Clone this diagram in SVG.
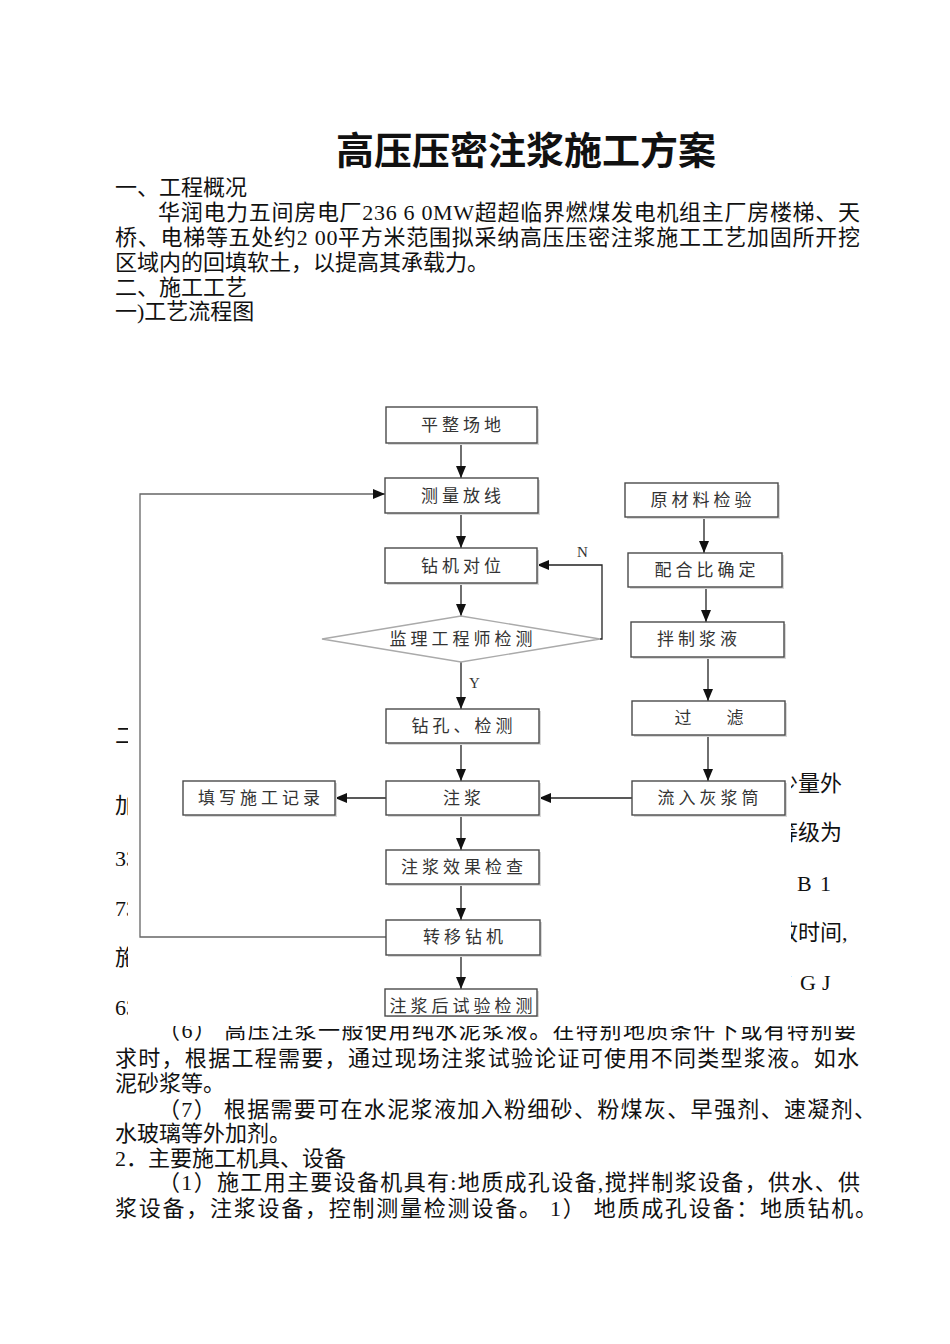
<svg xmlns="http://www.w3.org/2000/svg" width="950" height="1344" viewBox="0 0 950 1344">
<style>
.body{font-family:"Liberation Serif","Noto Sans CJK SC",serif;font-size:22px;fill:#111}
.title{font-family:"Liberation Serif","Noto Sans CJK SC",serif;font-size:38px;font-weight:700;fill:#111}
.box{fill:#fff;stroke:#4a4a4a;stroke-width:1.4}
.shadow{fill:#d8d8d8;stroke:none}
.lbl{font-family:"Noto Sans CJK SC",sans-serif;font-size:17px;fill:#333;letter-spacing:4px;text-anchor:middle}
.yn{font-family:"Liberation Serif",serif;font-size:15px;fill:#333}
.ln{fill:none;stroke:#222;stroke-width:1.3}
.fb{fill:none;stroke:#666;stroke-width:1.3}
</style>
<defs>
<marker id="ah" viewBox="0 0 12 10" refX="12" refY="5" markerWidth="12" markerHeight="10" markerUnits="userSpaceOnUse" orient="auto">
<path d="M0,0 L12,5 L0,10 z" fill="#111"/>
</marker>
<clipPath id="clipL"><rect x="0" y="700" width="128" height="330"/></clipPath>
<clipPath id="clipR"><rect x="791" y="760" width="150" height="250"/></clipPath>
<clipPath id="clip6"><rect x="0" y="1026" width="950" height="40"/></clipPath>
</defs>
<rect width="950" height="1344" fill="#fff"/>

<g id="document-text">
<text class="title" x="336" y="164" textLength="380" lengthAdjust="spacing">高压压密注浆施工方案</text>
<text class="body" x="115" y="195">一、工程概况</text>
<text class="body" x="158" y="220" textLength="702" lengthAdjust="spacing">华润电力五间房电厂236 6 0MW超超临界燃煤发电机组主厂房楼梯、天</text>
<text class="body" x="115" y="245" textLength="745" lengthAdjust="spacing">桥、电梯等五处约2 00平方米范围拟采纳高压压密注浆施工工艺加固所开挖</text>
<text class="body" x="115" y="270">区域内的回填软土，以提高其承载力。</text>
<text class="body" x="115" y="295">二、施工工艺</text>
<text class="body" x="115" y="319">一)工艺流程图</text>

<g clip-path="url(#clipL)">
<text class="body" x="115" y="743">二、</text>
<text class="body" x="115" y="813">加</text>
<text class="body" x="115" y="866">33</text>
<text class="body" x="115" y="916">73</text>
<text class="body" x="115" y="965">施</text>
<text class="body" x="115" y="1015">63</text>
</g>
<g clip-path="url(#clipR)">
<text class="body" x="776" y="791">少量外</text>
<text class="body" x="776" y="840">等级为</text>
<text class="body" x="797" y="891">B</text>
<text class="body" x="820" y="891">1</text>
<text class="body" x="776" y="940">效时间,</text>
<text class="body" x="783" y="990">J</text>
<text class="body" x="800" y="990">G</text>
<text class="body" x="822" y="990">J</text>
</g>

<text class="body" x="158" y="1038" textLength="698" lengthAdjust="spacing" clip-path="url(#clip6)">（6） 高压注浆一般使用纯水泥浆液。在特别地质条件下或有特别要</text>
<text class="body" x="115" y="1066" textLength="744" lengthAdjust="spacing">求时，根据工程需要，通过现场注浆试验论证可使用不同类型浆液。如水</text>
<text class="body" x="115" y="1091">泥砂浆等。</text>
<text class="body" x="158" y="1117" textLength="718" lengthAdjust="spacing">（7） 根据需要可在水泥浆液加入粉细砂、粉煤灰、早强剂、速凝剂、</text>
<text class="body" x="115" y="1141">水玻璃等外加剂。</text>
<text class="body" x="115" y="1166">2．主要施工机具、设备</text>
<text class="body" x="158" y="1190" textLength="702" lengthAdjust="spacing">（1）施工用主要设备机具有:地质成孔设备,搅拌制浆设备，供水、供</text>
<text class="body" x="115" y="1216" textLength="762" lengthAdjust="spacing">浆设备，注浆设备，控制测量检测设备。 1） 地质成孔设备：地质钻机。</text>
</g>

<g id="connectors">
<line class="ln" x1="461" y1="443" x2="461" y2="478" marker-end="url(#ah)"/>
<line class="ln" x1="461" y1="513" x2="461" y2="548" marker-end="url(#ah)"/>
<line class="ln" x1="461" y1="583" x2="461" y2="616" marker-end="url(#ah)"/>
<polyline class="ln" points="600,639 602,639 602,565 537,565" marker-end="url(#ah)"/>
<line class="ln" x1="461" y1="662" x2="461" y2="709" marker-end="url(#ah)"/>
<line class="ln" x1="461" y1="743" x2="461" y2="781" marker-end="url(#ah)"/>
<line class="ln" x1="386" y1="798" x2="335" y2="798" marker-end="url(#ah)"/>
<line class="ln" x1="632" y1="798" x2="539" y2="798" marker-end="url(#ah)"/>
<line class="ln" x1="461" y1="815" x2="461" y2="850" marker-end="url(#ah)"/>
<line class="ln" x1="461" y1="884" x2="461" y2="920" marker-end="url(#ah)"/>
<line class="ln" x1="461" y1="955" x2="461" y2="989" marker-end="url(#ah)"/>
<polyline class="fb" points="386,937 140,937 140,494 385,494" marker-end="url(#ah)"/>
<line class="ln" x1="704" y1="517" x2="704" y2="553" marker-end="url(#ah)"/>
<line class="ln" x1="706" y1="587" x2="706" y2="622" marker-end="url(#ah)"/>
<line class="ln" x1="708" y1="657" x2="708" y2="701" marker-end="url(#ah)"/>
<line class="ln" x1="708" y1="735" x2="708" y2="781" marker-end="url(#ah)"/>
<text class="yn" x="577" y="557">N</text>
<text class="yn" x="469" y="688">Y</text>
</g>

<g id="n-pingzheng"><rect class="shadow" x="388" y="409" width="151" height="36"/><rect class="box" x="386" y="407" width="151" height="36"/><text class="lbl" x="463" y="431">平整场地</text></g>
<g id="n-celiang"><rect class="shadow" x="387" y="480" width="153" height="35"/><rect class="box" x="385" y="478" width="153" height="35"/><text class="lbl" x="463" y="502">测量放线</text></g>
<g id="n-zuanji"><rect class="shadow" x="387" y="550" width="152" height="35"/><rect class="box" x="385" y="548" width="152" height="35"/><text class="lbl" x="463" y="572">钻机对位</text></g>
<g id="n-jianli"><polygon points="322,639 461,616 600,639 461,662" fill="#fff" stroke="#aaa" stroke-width="1.3"/><text class="lbl" x="463" y="645">监理工程师检测</text></g>
<g id="n-zuankong"><rect class="shadow" x="388" y="711" width="153" height="34"/><rect class="box" x="386" y="709" width="153" height="34"/><text class="lbl" x="464" y="732">钻孔、检测</text></g>
<g id="n-zhujiang"><rect class="shadow" x="388" y="783" width="153" height="34"/><rect class="box" x="386" y="781" width="153" height="34"/><text class="lbl" x="464" y="804">注浆</text></g>
<g id="n-tianxie"><rect class="shadow" x="185" y="783" width="152" height="34"/><rect class="box" x="183" y="781" width="152" height="34"/><text class="lbl" x="261" y="804">填写施工记录</text></g>
<g id="n-xiaoguo"><rect class="shadow" x="388" y="852" width="153" height="34"/><rect class="box" x="386" y="850" width="153" height="34"/><text class="lbl" x="464" y="873">注浆效果检查</text></g>
<g id="n-zhuanyi"><rect class="shadow" x="388" y="922" width="154" height="35"/><rect class="box" x="386" y="920" width="154" height="35"/><text class="lbl" x="465" y="943">转移钻机</text></g>
<g id="n-shiyan"><rect class="shadow" x="387" y="991" width="152" height="26"/><rect class="box" x="385" y="989" width="152" height="27"/><text class="lbl" x="463" y="1012">注浆后试验检测</text></g>
<g id="n-yuancailiao"><rect class="shadow" x="627" y="485" width="153" height="34"/><rect class="box" x="625" y="483" width="153" height="34"/><text class="lbl" x="703" y="506">原材料检验</text></g>
<g id="n-peihebi"><rect class="shadow" x="630" y="555" width="154" height="34"/><rect class="box" x="628" y="553" width="154" height="34"/><text class="lbl" x="707" y="576">配合比确定</text></g>
<g id="n-banzhi"><rect class="shadow" x="633" y="624" width="153" height="35"/><rect class="box" x="631" y="622" width="153" height="35"/><text class="lbl" x="699" y="645">拌制浆液</text></g>
<g id="n-guolv"><rect class="shadow" x="634" y="703" width="153" height="34"/><rect class="box" x="632" y="701" width="153" height="34"/><text class="lbl" x="685" y="724">过</text><text class="lbl" x="737" y="724">滤</text></g>
<g id="n-liuru"><rect class="shadow" x="634" y="783" width="153" height="34"/><rect class="box" x="632" y="781" width="153" height="34"/><text class="lbl" x="710" y="804">流入灰浆筒</text></g>
</svg>
